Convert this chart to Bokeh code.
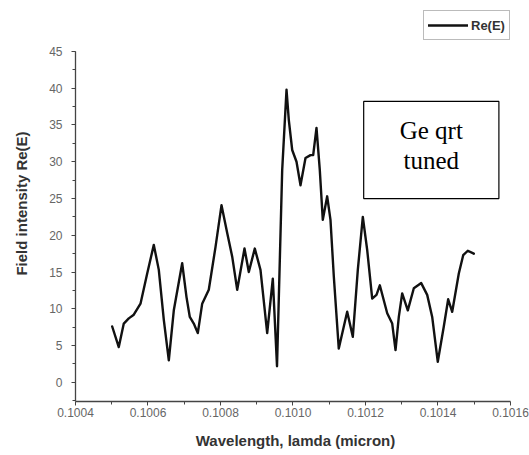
from bokeh.plotting import figure
from bokeh.models import (Legend, LegendItem, Label, BoxAnnotation, Range1d,
                          SingleIntervalTicker, FixedTicker)
from bokeh.embed import file_html
from bokeh.resources import INLINE

# Field spectrum: wavelength (micron) against Re(E)
wavelength = [0.1005012, 0.1005194, 0.1005332, 0.1005470, 0.1005608, 0.1005793,
              0.1005978, 0.1006160, 0.1006298, 0.1006436, 0.1006574, 0.1006712,
              0.1006943, 0.1007062, 0.1007153, 0.1007263, 0.1007374, 0.1007495,
              0.1007677, 0.1007862, 0.1008028, 0.1008185, 0.1008323, 0.1008461,
              0.1008662, 0.1008781, 0.1008946, 0.1009103, 0.1009288, 0.1009443,
              0.1009559, 0.1009702, 0.1009821, 0.1009884, 0.1009978, 0.1010097,
              0.1010207, 0.1010345, 0.1010483, 0.1010557, 0.1010648, 0.1010739,
              0.1010822, 0.1010943, 0.1011034, 0.1011126, 0.1011263, 0.1011495,
              0.1011650, 0.1011788, 0.1011926, 0.1012047, 0.1012185, 0.1012303,
              0.1012395, 0.1012599, 0.1012737, 0.1012828, 0.1012919, 0.1013012,
              0.1013167, 0.1013333, 0.1013537, 0.1013702, 0.1013840, 0.1013994,
              0.1014160, 0.1014281, 0.1014392, 0.1014574, 0.1014695, 0.1014822,
              0.1014988]
field = [7.6, 4.8, 8.0, 8.7, 9.2, 10.7,
         14.8, 18.7, 15.3, 8.5, 3.0, 9.8,
         16.2, 11.6, 8.9, 8.0, 6.7, 10.7,
         12.6, 18.4, 24.1, 20.3, 17.1, 12.6,
         18.2, 15.0, 18.2, 15.3, 6.7, 14.1,
         2.2, 28.9, 39.8, 35.7, 31.6, 30.0,
         26.8, 30.5, 30.9, 30.9, 34.6, 28.9,
         22.1, 25.3, 22.1, 14.4, 4.6, 9.6,
         6.2, 15.3, 22.5, 18.0, 11.4, 11.9,
         13.2, 9.4, 8.0, 4.4, 8.9, 12.1,
         9.8, 12.8, 13.5, 11.9, 8.9, 2.8,
         7.6, 11.3, 9.6, 14.8, 17.3, 17.9,
         17.5]

x_ticks = [0.1004, 0.1006, 0.1008, 0.1010, 0.1012, 0.1014, 0.1016]
x_tick_labels = ["0.1004", "0.1006", "0.1008", "0.1010", "0.1012", "0.1014", "0.1016"]
x_minor = [0.1005, 0.1007, 0.1009, 0.1011, 0.1013, 0.1015]
x_bounds = (0.1004, 0.1016)
y_bounds = (-2.6, 45)
series_name = "Re(E)"
note_lines = ["Ge qrt", "tuned"]

# The frame reaches past the axis extents so the legend can sit above the axes
p = figure(width=529, height=455, output_backend="svg", toolbar_location=None,
           x_range=Range1d(0.1004, 0.1016138), y_range=Range1d(-2.6, 51.25),
           min_border_left=75, min_border_right=14,
           min_border_top=5, min_border_bottom=54)
p.outline_line_color = None
p.xgrid.visible = False
p.ygrid.visible = False
p.background_fill_color = "white"
p.border_fill_color = "white"

line = p.line(wavelength, field, line_color="#111111", line_width=2.4,
              line_join="round", line_cap="round")

axis_col = "#444444"
tick_col = "#666666"

xa = p.xaxis[0]
xa.ticker = FixedTicker(ticks=x_ticks, minor_ticks=x_minor)
xa.major_label_overrides = {t: s for t, s in zip(x_ticks, x_tick_labels)}
xa.axis_label = "Wavelength, lamda (micron)"
xa.bounds = x_bounds

ya = p.yaxis[0]
ya.ticker = SingleIntervalTicker(interval=5, num_minor_ticks=2)
ya.axis_label = "Field intensity Re(E)"
ya.bounds = y_bounds

for ax in (xa, ya):
    ax.axis_line_color = axis_col
    ax.axis_line_width = 1.3
    ax.major_tick_line_color = axis_col
    ax.minor_tick_line_color = axis_col
    ax.major_tick_in = 0
    ax.major_tick_out = 4
    ax.minor_tick_in = 0
    ax.minor_tick_out = 3
    ax.major_label_text_font = "Liberation Sans"
    ax.major_label_text_font_size = "12px"
    ax.major_label_text_color = tick_col
    ax.axis_label_text_font = "Liberation Sans"
    ax.axis_label_text_font_style = "bold"
    ax.axis_label_text_color = "#333333"
    ax.axis_label_text_font_size = "15px"

xa.major_label_standoff = 2
xa.axis_label_standoff = 12
ya.major_label_standoff = 9
ya.axis_label_standoff = 16

legend = Legend(items=[LegendItem(label=series_name, renderers=[line])],
                location=(348, 361), orientation="vertical",
                glyph_width=40, glyph_height=20, label_standoff=3,
                padding=4, margin=0, spacing=0,
                label_text_font="Liberation Sans", label_text_font_style="bold",
                label_text_font_size="13px", label_text_color="#333333",
                border_line_color="#777777", border_line_width=1,
                background_fill_color="white", background_fill_alpha=1)
p.add_layout(legend, "center")

box = BoxAnnotation(left=0.101195, right=0.101568, bottom=25.0, top=38.2,
                    fill_color="white", fill_alpha=1,
                    line_color="black", line_alpha=1, line_width=1.2)
p.add_layout(box)

note_x = 0.1013815
for txt, yy in zip(note_lines, [34.3, 30.2]):
    p.add_layout(Label(x=note_x, y=yy, text=txt, text_align="center",
                       text_baseline="alphabetic", text_font="Liberation Serif",
                       text_font_size="25px", text_color="black"))

open("out.html", "w").write(file_html(p, INLINE))
